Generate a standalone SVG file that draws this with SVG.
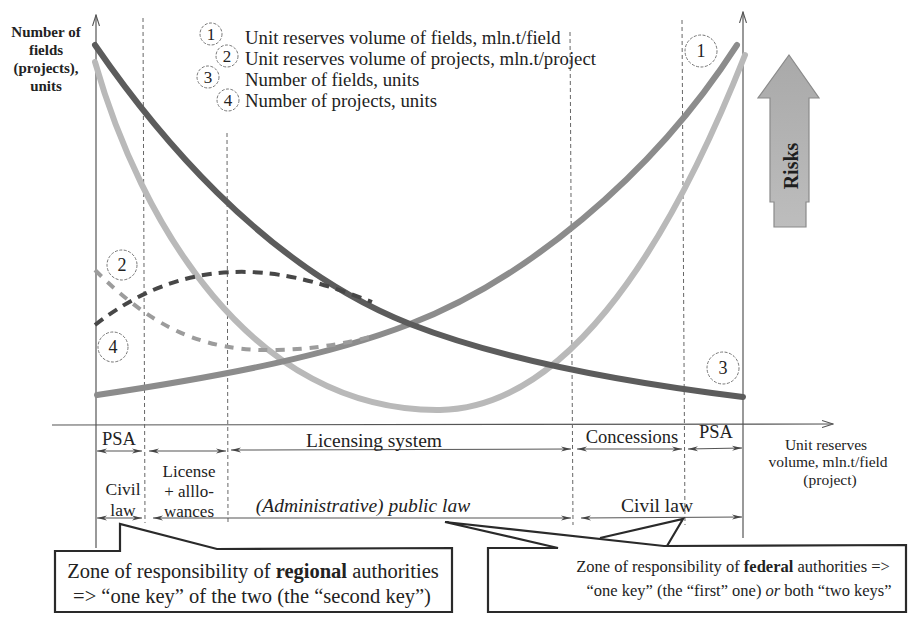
<svg xmlns="http://www.w3.org/2000/svg" width="913" height="619" viewBox="0 0 913 619" font-family="'Liberation Serif', 'DejaVu Serif', serif">
<defs>
<style>
text{font-family:'Liberation Serif','DejaVu Serif',serif;fill:#222}
.c{text-anchor:middle}
.ylab{font-size:15px;font-weight:bold;text-anchor:middle}
.leg{font-size:18.8px}
.num{font-size:17px;text-anchor:middle}
.lbl{font-size:18.5px;text-anchor:middle}
.axis{stroke:#555;stroke-width:1.2;fill:none}
.grid{stroke:#666;stroke-width:1;stroke-dasharray:4 3;fill:none}
.dim{stroke:#555;stroke-width:1.1;fill:none;marker-start:url(#dh);marker-end:url(#dh)}
.circ{fill:none;stroke:#777;stroke-width:1;stroke-dasharray:3 1.5}
.curve{fill:none;stroke-width:6;stroke-linecap:round}
.box{fill:#fff;stroke:#2a2a2a;stroke-width:2.2;stroke-linejoin:miter}
.ptr{fill:none;stroke:#2a2a2a;stroke-width:2.2}
</style>
<marker id="dh" viewBox="0 0 10 6" refX="10" refY="3" markerWidth="10" markerHeight="6" markerUnits="userSpaceOnUse" orient="auto-start-reverse">
<path d="M0,0.5 L10,3 L0,5.5 L3,3 Z" fill="#444"/>
</marker>
<marker id="ah" viewBox="0 0 12 8" refX="11" refY="4" markerWidth="12" markerHeight="8" markerUnits="userSpaceOnUse" orient="auto">
<path d="M0,0.5 L11,4 L0,7.5" fill="none" stroke="#555" stroke-width="1.1"/>
</marker>
<linearGradient id="rg" x1="0" y1="0" x2="0" y2="1">
<stop offset="0" stop-color="#a9a9a9"/>
<stop offset="1" stop-color="#bdbdbd"/>
</linearGradient>
</defs>
<rect width="913" height="619" fill="#fff"/>

<g id="axes">
<line class="axis" x1="96" y1="548" x2="96" y2="15" marker-end="url(#ah)"/>
<line class="axis" x1="743" y1="538" x2="743" y2="12" marker-end="url(#ah)"/>
<line class="axis" x1="52" y1="425" x2="833" y2="424" marker-end="url(#ah)"/>
<line class="grid" x1="143" y1="18" x2="145" y2="523"/>
<line class="grid" x1="227" y1="133" x2="228" y2="523"/>
<line class="grid" x1="570" y1="32" x2="573" y2="525"/>
<line class="grid" x1="682" y1="20" x2="685" y2="525"/>
</g>

<g id="y-label">
<text class="ylab" x="46" y="37">Number of</text>
<text class="ylab" x="46" y="55">fields</text>
<text class="ylab" x="46" y="73">(projects),</text>
<text class="ylab" x="46" y="91">units</text>
</g>

<g id="legend">
<circle class="circ" cx="211" cy="34" r="11"/><text class="num" x="211" y="40">1</text>
<circle class="circ" cx="227" cy="56" r="11"/><text class="num" x="227" y="62">2</text>
<circle class="circ" cx="208" cy="77" r="11"/><text class="num" x="208" y="83">3</text>
<circle class="circ" cx="228" cy="100" r="11"/><text class="num" x="228" y="106">4</text>
<text class="leg" x="245" y="44">Unit reserves volume of fields, mln.t/field</text>
<text class="leg" x="245" y="65">Unit reserves volume of projects, mln.t/project</text>
<text class="leg" x="245" y="86">Number of fields, units</text>
<text class="leg" x="245" y="107">Number of projects, units</text>
</g>

<g id="curves">
<path id="curve2" class="curve" stroke="#b9b9b9" d="M95,62 C140,220 250,412 440,410 C560,408 662,265 745,55"/>
<path id="curve1" class="curve" stroke="#8c8c8c" d="M97,395 C230,375 330,355 410,324 C520,282 650,180 737,45"/>
<path id="curve3" class="curve" stroke="#5c5c5c" d="M95,45 C150,125 260,265 410,324 C500,359 620,382 743,397"/>
<path id="curve2d" fill="none" stroke="#9c9c9c" stroke-width="4" stroke-dasharray="9 8" d="M95,270 C150,325 200,352 277,350 C320,349 350,342 374,336"/>
<path id="curve4d" fill="none" stroke="#474747" stroke-width="4" stroke-dasharray="10 7" d="M95,325 C140,290 190,270 250,272 C300,274 340,290 372,302"/>
</g>

<g id="curve-labels">
<circle class="circ" cx="122" cy="265" r="15"/><text class="num" x="122" y="271" style="font-size:18px">2</text>
<circle class="circ" cx="113" cy="347" r="15"/><text class="num" x="113" y="353" style="font-size:18px">4</text>
<circle class="circ" cx="701" cy="51" r="16"/><text class="num" x="701" y="57" style="font-size:18px">1</text>
<circle class="circ" cx="723" cy="368" r="16"/><text class="num" x="723" y="374" style="font-size:18px">3</text>
</g>

<g id="risks">
<path d="M789,55 L819,98 L809,98 L809,202 L806,202 L806,227 L774,227 L774,202 L770,202 L770,98 L758,98 Z" fill="url(#rg)" stroke="#8a8a8a" stroke-width="1.2"/>
<text x="0" y="0" transform="translate(798,166) rotate(-90)" class="c" style="font-size:20px;font-weight:bold;fill:#1e1e1e">Risks</text>
</g>

<g id="x-label">
<text class="c" x="826" y="450" style="font-size:15.5px">Unit reserves</text>
<text class="c" x="828" y="467" style="font-size:15.5px">volume, mln.t/field</text>
<text class="c" x="830" y="485" style="font-size:15.5px">(project)</text>
</g>

<g id="regimes">
<line class="dim" x1="97" y1="451" x2="142" y2="451"/>
<line class="dim" x1="149" y1="451" x2="226" y2="451"/>
<line class="dim" x1="231" y1="450" x2="571" y2="449"/>
<line class="dim" x1="577" y1="449" x2="682" y2="449"/>
<line class="dim" x1="688" y1="449" x2="742" y2="448"/>
<text class="lbl" x="119" y="445">PSA</text>
<text class="lbl" x="374" y="447" style="font-size:19.5px">Licensing system</text>
<text class="lbl" x="632" y="443">Concessions</text>
<text class="lbl" x="716" y="438">PSA</text>

<line class="dim" x1="97" y1="518" x2="142" y2="518"/>
<line class="dim" x1="153" y1="518" x2="571" y2="518"/>
<line class="dim" x1="581" y1="518" x2="742" y2="517"/>
<text class="lbl" x="123" y="495" style="font-size:17.5px">Civil</text>
<text class="lbl" x="123" y="516" style="font-size:17.5px">law</text>
<text class="lbl" x="189" y="477" style="font-size:17px">License</text>
<text class="lbl" x="189" y="497" style="font-size:17px">+ alllo-</text>
<text class="lbl" x="189" y="517" style="font-size:17px">wances</text>
<text class="lbl" x="363" y="512" style="font-size:19.5px;font-style:italic">(Administrative) public law</text>
<text class="lbl" x="657" y="512" style="font-size:19.5px">Civil law</text>
</g>

<g id="regional-callout">
<path class="box" d="M55,612 L55,551 L120,551 L120,524 L217,549 L452,548 L452,612 Z"/>
<text class="c" x="253" y="578" style="font-size:20.5px">Zone of responsibility of <tspan font-weight="bold">regional</tspan> authorities</text>
<text class="c" x="252" y="603" style="font-size:20.5px">=&gt; “one key” of the two (the “second key”)</text>
</g>

<g id="federal-callout">
<path class="box" d="M488,612 L488,548 L558,548 L445,522 L664,546 L906,545 L906,612 Z"/>
<path class="ptr" d="M600,538 L683,519 L667,546"/>
<text class="c" x="733" y="572" style="font-size:16.5px">Zone of responsibility of <tspan font-weight="bold">federal</tspan> authorities =&gt;</text>
<text class="c" x="739" y="596" style="font-size:16.5px">“one key” (the “first” one) <tspan font-style="italic">or</tspan> both “two keys”</text>
</g>
</svg>
